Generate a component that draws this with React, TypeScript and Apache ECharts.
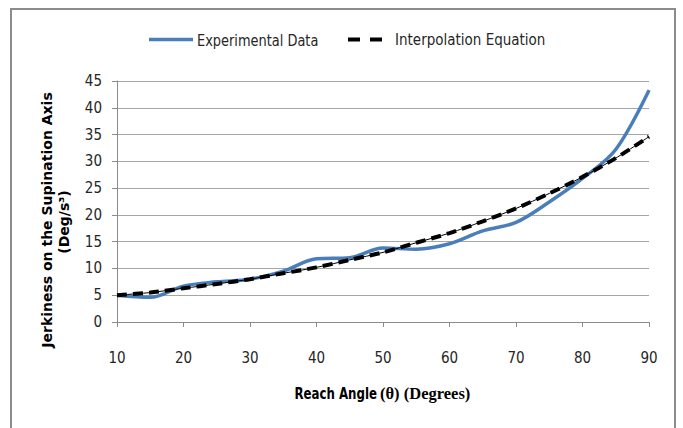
import React, { useEffect, useRef } from "react";
import * as echarts from "echarts";

const angles = [10, 15, 20, 25, 30, 35, 40, 45, 50, 55, 60, 65, 70, 75, 80, 85, 90];
const experimental = [5.0, 4.6, 6.7, 7.5, 8.0, 9.5, 11.8, 12.0, 13.8, 13.6, 14.6, 17.0, 18.6, 22.4, 26.8, 32.2, 43.3];
const interpolation = [5.0, 5.5, 6.3, 7.1, 8.0, 9.1, 10.2, 11.6, 13.0, 14.8, 16.6, 18.8, 21.2, 24.0, 27.1, 30.6, 34.6];
const seriesNames = ["Experimental Data", "Interpolation Equation"];
const yTicks = { min: 0, max: 45, interval: 5 };
const xTicks = { min: 10, max: 90, interval: 10 };

const NARROW = "'Liberation Sans Narrow', 'DejaVu Sans Condensed', 'Liberation Sans', sans-serif";
const WIDE = "'DejaVu Sans', Verdana, sans-serif";
const BLUE = "#4a7ebb";

export default function App() {
  const ref = useRef<HTMLDivElement>(null);
  useEffect(() => {
    if (!ref.current) return;
    const chart = echarts.init(ref.current, undefined, { renderer: "svg" });
    const expPts = angles.map((a, i) => [a, experimental[i]]);
    const intPts = angles.map((a, i) => [a, interpolation[i]]);
    chart.setOption({
      animation: false,
      backgroundColor: "#ffffff",
      grid: { left: 117, right: 34, top: 81, bottom: 106 },
      xAxis: {
        type: "value",
        min: xTicks.min,
        max: xTicks.max,
        interval: xTicks.interval,
        axisLine: { show: true, lineStyle: { color: "#8c8c8c", width: 1 } },
        axisTick: { show: true, length: 5, lineStyle: { color: "#8c8c8c" } },
        splitLine: { show: false },
        axisLabel: { margin: 28, fontFamily: NARROW, fontSize: 15, color: "#262626" },
      },
      yAxis: {
        type: "value",
        min: yTicks.min,
        max: yTicks.max,
        interval: yTicks.interval,
        axisLine: { show: true, lineStyle: { color: "#8c8c8c", width: 1 } },
        axisTick: { show: true, length: 5, lineStyle: { color: "#8c8c8c" } },
        splitLine: { show: true, lineStyle: { color: "#a6a6a6", width: 1 } },
        axisLabel: { margin: 15, fontFamily: NARROW, fontSize: 15, color: "#262626" },
      },
      series: [
        {
          name: seriesNames[0],
          type: "line",
          data: expPts,
          smooth: 0.35,
          showSymbol: false,
          symbol: "none",
          lineStyle: { color: BLUE, width: 3.5 },
          itemStyle: { color: BLUE },
          z: 2,
        },
        {
          name: "trend",
          type: "line",
          data: intPts,
          smooth: 0.3,
          showSymbol: false,
          symbol: "none",
          lineStyle: { color: "#000000", width: 1 },
          z: 3,
        },
        {
          name: seriesNames[1],
          type: "line",
          data: intPts,
          smooth: 0.3,
          showSymbol: false,
          symbol: "none",
          lineStyle: { color: "#000000", width: 4, type: [10, 6] },
          itemStyle: { color: "#000000" },
          z: 4,
        },
      ],
      graphic: [
        {
          type: "rect",
          shape: { x: 11, y: 9, width: 664, height: 440 },
          style: { fill: "none", stroke: "#8c8c8c", lineWidth: 2 },
          silent: true,
        },
        // legend
        {
          type: "line",
          shape: { x1: 149, y1: 39.5, x2: 193, y2: 39.5 },
          style: { stroke: BLUE, lineWidth: 3.5 },
        },
        {
          type: "text",
          x: 197,
          y: 40,
          scaleX: 0.96,
          style: {
            text: seriesNames[0],
            fontFamily: NARROW,
            fontSize: 15,
            fill: "#262626",
            align: "left",
            verticalAlign: "middle",
          },
        },
        {
          type: "line",
          shape: { x1: 348, y1: 39.5, x2: 382, y2: 39.5 },
          style: { stroke: "#000000", lineWidth: 4, lineDash: [12, 10] },
        },
        {
          type: "text",
          x: 395,
          y: 40,
          style: {
            text: seriesNames[1],
            fontFamily: NARROW,
            fontSize: 15,
            fill: "#262626",
            align: "left",
            verticalAlign: "middle",
          },
        },
        // y axis title
        {
          type: "text",
          x: 47,
          y: 220,
          rotation: Math.PI / 2,
          style: {
            text: "Jerkiness on the Supination Axis",
            fontFamily: WIDE,
            fontWeight: "bold",
            fontSize: 14,
            fill: "#000000",
            align: "center",
            verticalAlign: "middle",
          },
        },
        {
          type: "text",
          x: 64,
          y: 222,
          rotation: Math.PI / 2,
          style: {
            text: "(Deg/s³)",
            fontFamily: WIDE,
            fontWeight: "bold",
            fontSize: 14,
            fill: "#000000",
            align: "center",
            verticalAlign: "middle",
          },
        },
        // x axis title
        {
          type: "text",
          x: 377,
          y: 393,
          scaleX: 0.82,
          style: {
            text: "Reach Angle",
            fontFamily: NARROW,
            fontWeight: "bold",
            fontSize: 16,
            fill: "#000000",
            align: "right",
            verticalAlign: "middle",
          },
        },
        {
          type: "text",
          x: 380,
          y: 393,
          style: {
            text: "(θ) (Degrees)",
            fontFamily: "'Liberation Serif', serif",
            fontWeight: "bold",
            fontSize: 16.5,
            fill: "#000000",
            align: "left",
            verticalAlign: "middle",
          },
        },
      ],
    });
    return () => chart.dispose();
  }, []);
  return (
    <div
      ref={ref}
      style={{ position: "fixed", left: 0, top: 0, width: 683, height: 428 }}
    />
  );
}
